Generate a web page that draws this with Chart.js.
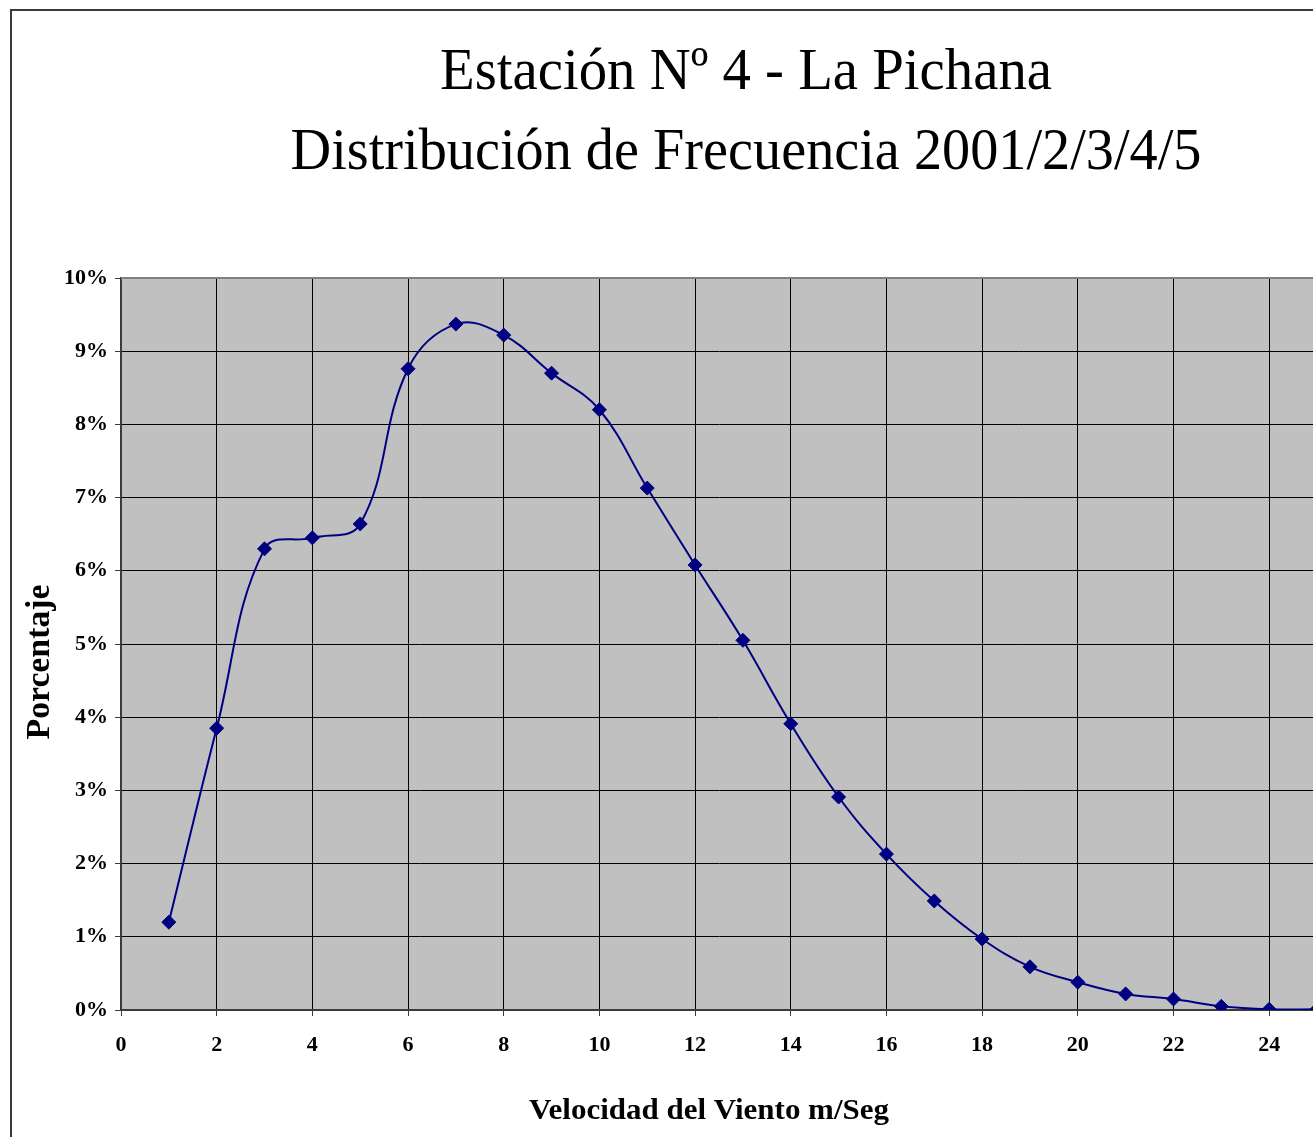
<!DOCTYPE html>
<html>
<head>
<meta charset="utf-8">
<title>Estación Nº 4 - La Pichana</title>
<script src="https://cdn.jsdelivr.net/npm/chart.js@4/dist/chart.umd.min.js"></script>
<style>
  html, body { margin: 0; padding: 0; background: #fff; overflow: hidden; }
  #marco {
    position: absolute; left: 10px; top: 9px;
    width: 1468px; height: 1140px;
    border-left: 2px solid #3a3a3a; border-top: 2px solid #3a3a3a;
    background: #fff;
  }
  canvas { display: block; }
</style>
</head>
<body>
<div id="marco"><canvas id="frecuencia" width="1468" height="1140"></canvas></div>
<script>
// velocidad del viento (m/s) y porcentaje de horas en cada clase
var velocidad = [1, 2, 3, 4, 5, 6, 7, 8, 9, 10, 11, 12, 13, 14, 15, 16, 17, 18, 19, 20, 21, 22, 23, 24, 25];
var porcentaje = [1.20, 3.85, 6.30, 6.45, 6.64, 8.76, 9.37, 9.22, 8.70, 8.20, 7.13, 6.08, 5.05, 3.91, 2.91,
                  2.13, 1.49, 0.97, 0.59, 0.38, 0.22, 0.15, 0.05, 0.01, 0.01];

var titulo = ["Estación Nº 4 - La Pichana", "Distribución de Frecuencia 2001/2/3/4/5"];
var tituloX = "Velocidad del Viento m/Seg";
var tituloY = "Porcentaje";

var puntos = [];
for (var i in velocidad) {
  puntos.push({ x: velocidad[i], y: porcentaje[i] });
}

// texto algo estrechado, como en la hoja original
function textoAncho(ctx, txt, x, y, ancho) {
  var w = ctx.measureText(txt).width;
  var sx = ancho / w;
  ctx.save();
  ctx.translate(x, y);
  ctx.scale(sx, 1);
  ctx.textAlign = "center";
  ctx.fillText(txt, 0, 0);
  ctx.restore();
}

var fondo = {
  id: "fondo",
  beforeDraw: function(chart) {
    var ctx = chart.ctx, a = chart.chartArea;
    ctx.save();
    ctx.fillStyle = "#c0c0c0";
    ctx.fillRect(a.left, a.top, a.right - a.left, a.bottom - a.top);
    ctx.restore();
  },
  afterDraw: function(chart) {
    var ctx = chart.ctx, a = chart.chartArea;
    ctx.save();
    ctx.strokeStyle = "#808080";
    ctx.lineWidth = 2;
    ctx.beginPath();
    ctx.moveTo(a.left, a.top);
    ctx.lineTo(a.right, a.top);
    ctx.stroke();

    ctx.fillStyle = "#000";
    ctx.textBaseline = "alphabetic";
    ctx.font = "60px 'Liberation Serif'";
    textoAncho(ctx, titulo[0], 734, 78, 612);
    textoAncho(ctx, titulo[1], 734, 158, 911);

    ctx.font = "bold 29px 'Liberation Serif'";
    textoAncho(ctx, tituloX, 697, 1108, 360);

    ctx.translate(26, 651);
    ctx.rotate(-Math.PI / 2);
    ctx.font = "bold 33px 'Liberation Serif'";
    textoAncho(ctx, tituloY, 0, 11, 155);
    ctx.restore();
  }
};

var ctx = document.getElementById("frecuencia");

var grafico = new Chart(ctx, {
  type: "line",
  data: {
    datasets: [{
      data: puntos,
      borderColor: "#000080",
      backgroundColor: "#000080",
      borderWidth: 2,
      tension: 0.4,
      pointStyle: "rectRot",
      pointRadius: 7,
      pointBorderWidth: 1,
      pointBackgroundColor: "#000080",
      pointBorderColor: "#000080"
    }]
  },
  options: {
    responsive: false,
    animation: false,
    events: [],
    layout: { padding: { left: 0, top: 267, right: 163, bottom: 0 } },
    plugins: {
      legend: { display: false },
      title: { display: false },
      tooltip: { enabled: false }
    },
    scales: {
      x: {
        type: "linear",
        min: 0,
        max: 25,
        afterFit: function(s) { s.height = 141; },
        border: { color: "#3a3a3a", width: 2 },
        grid: { color: "#000", lineWidth: 1, tickLength: 6, tickColor: "#3a3a3a" },
        ticks: {
          stepSize: 2,
          includeBounds: false,
          padding: 16,
          color: "#000",
          font: { family: "'Liberation Serif'", size: 22, weight: "bold" }
        }
      },
      y: {
        min: 0,
        max: 10,
        afterFit: function(s) { s.width = 109; },
        border: { color: "#3a3a3a", width: 2 },
        grid: { color: "#000", lineWidth: 1, tickLength: 6, tickColor: "#3a3a3a" },
        ticks: {
          stepSize: 1,
          padding: 7,
          color: "#000",
          font: { family: "'Liberation Serif'", size: 22, weight: "bold" },
          callback: function(v) { return v + "%"; }
        }
      }
    }
  },
  plugins: [fondo]
});
</script>
</body>
</html>
